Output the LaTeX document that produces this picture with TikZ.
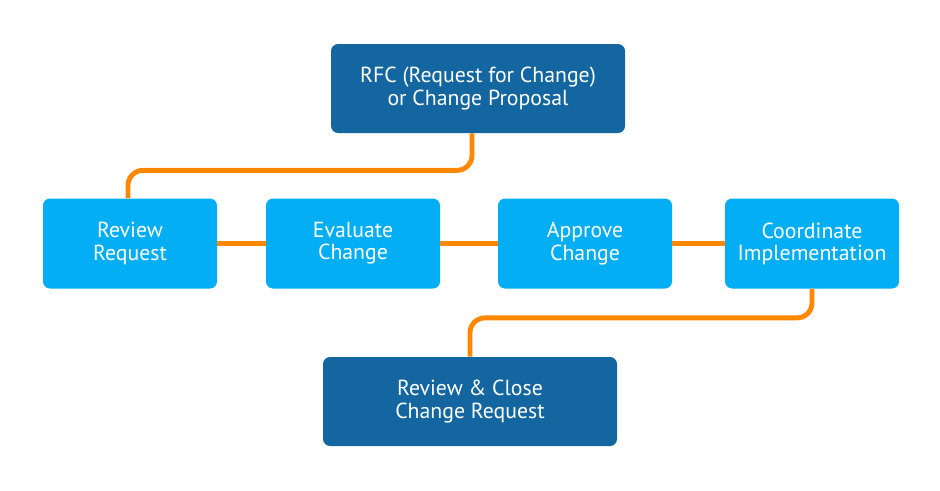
\documentclass[tikz,border=0pt]{standalone}
\usepackage{fontspec}
\setmainfont{PT Sans}
\usepackage{xcolor}
\definecolor{stepdark}{RGB}{19,102,159}
\definecolor{steplight}{RGB}{3,174,245}
\definecolor{linkorange}{RGB}{255,136,0}
\usepackage{tikz}
\usetikzlibrary{positioning}

\begin{document}
\begin{tikzpicture}[
  mainbox/.style={rectangle, rounded corners=4pt, fill=stepdark, minimum width=5.88cm, minimum height=1.78cm, align=center, text=white, font=\fontsize{12.4}{12.6}\selectfont},
  stepbox/.style={rectangle, rounded corners=4pt, fill=steplight, minimum width=3.48cm, minimum height=1.8cm, align=center, text=white, font=\fontsize{12.4}{12.6}\selectfont},
  link/.style={line width=2.8pt, draw=linkorange, rounded corners=0.3cm}
]
\useasboundingbox (0,0) rectangle (18.8,9.8);

% Nodes
\node[mainbox] (rfc) at (9.56,8.03) {RFC (Request for Change)\\or Change Proposal};
\node[stepbox] (review) at (2.6,4.93) {Review\\Request};
\node[stepbox] (evaluate) at (7.06,4.93) {Evaluate\\Change};
\node[stepbox] (approve) at (11.7,4.93) {Approve\\Change};
\node[stepbox] (coord) at (16.24,4.93) {Coordinate\\Implementation};
\node[mainbox] (close) at (9.40,1.77) {Review \& Close\\Change Request};

% Links
\draw[link] ([xshift=-0.12cm]rfc.south) -- ++(0,-0.74) -| ([xshift=-0.04cm]review.north);
\draw[link] (review.east) -- (evaluate.west);
\draw[link] (evaluate.east) -- (approve.west);
\draw[link] (approve.east) -- (coord.west);
\draw[link] (coord.south) -- ++(0,-0.58) -| (close.north);

\end{tikzpicture}
\end{document}
